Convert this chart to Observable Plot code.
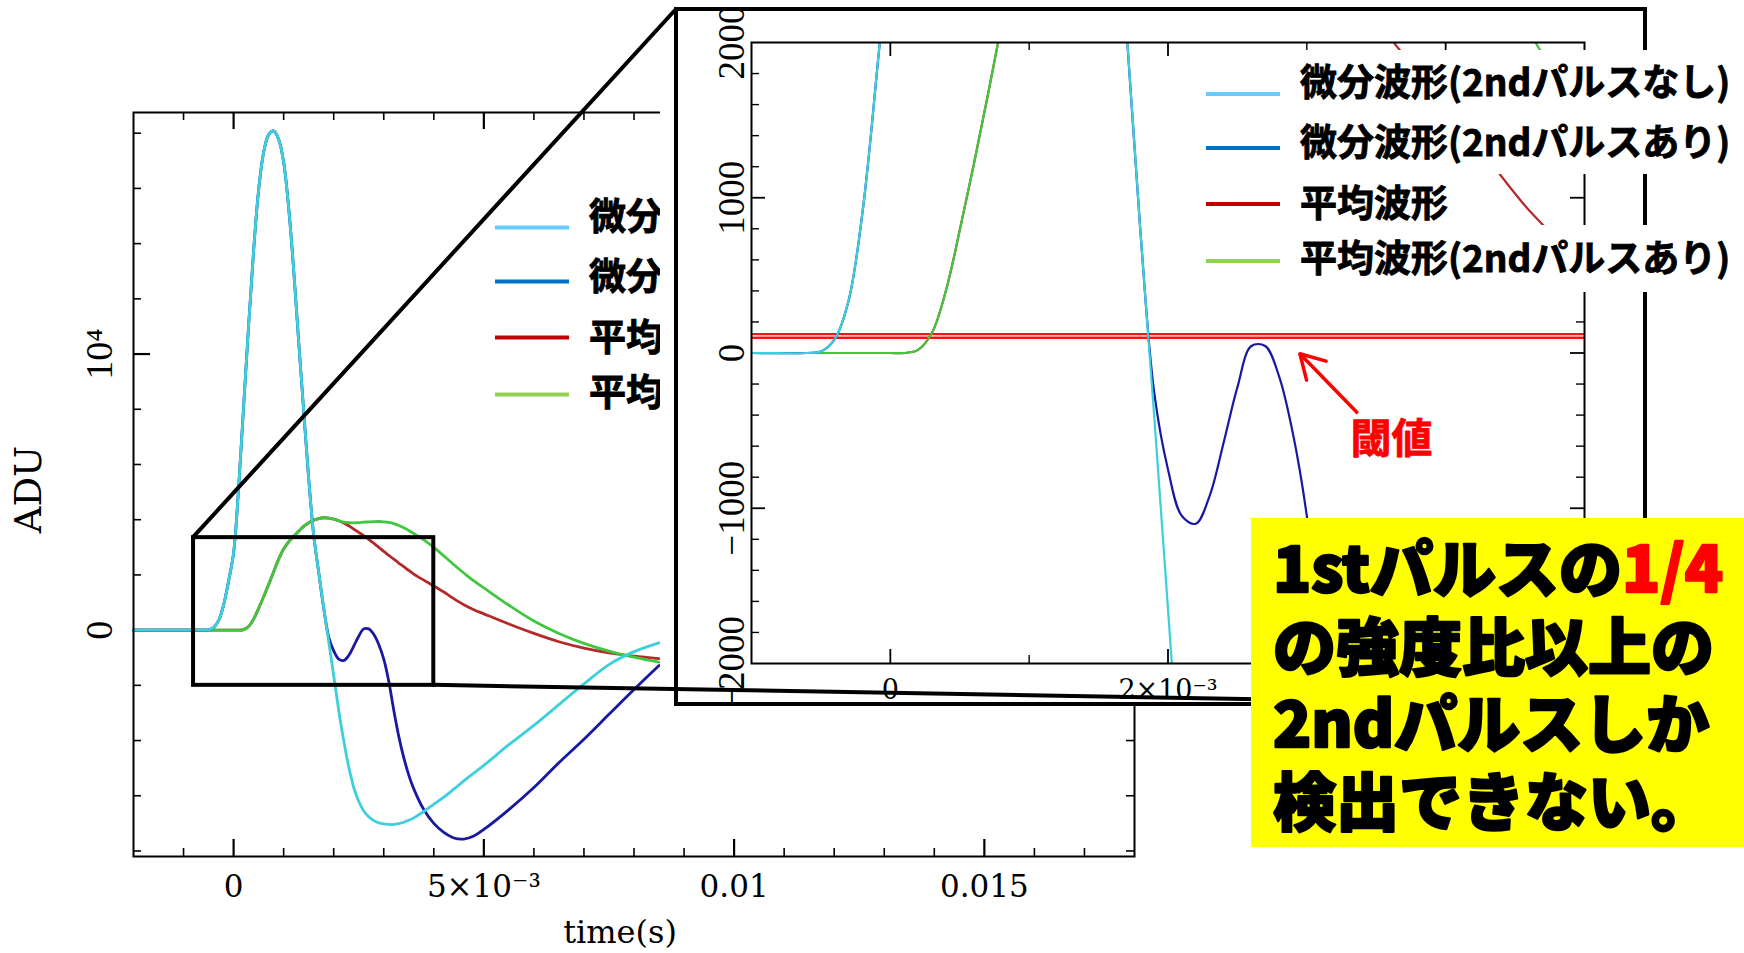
<!DOCTYPE html>
<html><head><meta charset="utf-8">
<script src="https://cdn.jsdelivr.net/npm/d3@7"></script>
<script src="https://cdn.jsdelivr.net/npm/@observablehq/plot@0.6"></script>
<style>
html,body{margin:0;padding:0;background:#fff;}
#stage{position:relative;width:1744px;height:953px;overflow:hidden;background:#fff;}
.layer{position:absolute;left:0;top:0;}
</style></head>
<body><div id="stage"></div>
<script>
// ---------------- data (time in ms, ADU values) ----------------
const timeMs = [-2, -1, -0.6, -0.5, -0.4, -0.3, -0.2, -0.1,
  0, 0.1, 0.2, 0.3, 0.4, 0.5, 0.6, 0.7, 0.8, 0.9, 1.0, 1.1, 1.2, 1.3, 1.4, 1.5, 1.6, 1.7, 1.8, 1.9,
  2.0, 2.1, 2.2, 2.3, 2.4, 2.5, 2.6, 2.7, 2.8, 2.9, 3.0, 3.1, 3.2, 3.3, 3.4, 3.5, 3.6,
  3.8, 4.0, 4.2, 4.4, 4.6, 4.8, 5.0, 5.5, 6.0, 6.5, 7.0, 7.5, 8.0, 8.5];
// 微分波形(2ndパルスなし)
const diffNo = [0, 0, 0, 10, 90, 340, 910, 1780,
  2800, 5150, 8100, 11050, 13750, 15950, 17300, 17950, 18080, 17780, 16950, 15300, 13050, 10450, 7950, 5500, 3450, 2100, 800, -400,
  -1650, -2900, -4000, -4950, -5700, -6200, -6550, -6760, -6900, -6980, -7020, -7040, -7040, -7010, -6960, -6890, -6800,
  -6570, -6310, -6050, -5760, -5460, -5180, -4900, -4150, -3450, -2700, -1950, -1250, -780, -460];
// 微分波形(2ndパルスあり)
const diffWith = [0, 0, 0, 10, 90, 340, 910, 1780,
  2800, 5150, 8100, 11050, 13750, 15950, 17300, 17950, 18080, 17780, 16950, 15300, 13050, 10450, 7950, 5500, 3450, 2100, 800, -250,
  -750, -1050, -1100, -920, -580, -220, 45, 45, -150, -520, -1050, -1850, -2900, -3850, -4620, -5250, -5750,
  -6500, -7000, -7330, -7530, -7570, -7460, -7220, -6500, -5700, -4800, -3950, -3050, -2150, -1280];
// 平均波形
const avgNo = [0, 0, 0, 0, 0, 0, 0, 0,
  0, 0, 20, 130, 400, 790, 1210, 1650, 2110, 2570, 2940, 3200, 3400, 3580, 3760, 3890, 3980, 4040, 4070, 4060,
  4020, 3960, 3880, 3780, 3660, 3540, 3420, 3290, 3150, 3000, 2850, 2710, 2570, 2430, 2300, 2160, 2030,
  1810, 1600, 1380, 1140, 920, 740, 590, 220, -120, -420, -650, -820, -940, -1030];
// 平均波形(2ndパルスあり)
const avgWith = [0, 0, 0, 0, 0, 0, 0, 0,
  0, 0, 20, 130, 400, 790, 1210, 1650, 2110, 2570, 2940, 3200, 3400, 3580, 3760, 3890, 3980, 4040, 4070, 4060,
  4020, 3965, 3910, 3890, 3885, 3895, 3910, 3920, 3930, 3935, 3925, 3900, 3860, 3790, 3710, 3610, 3500,
  3270, 3000, 2690, 2370, 2070, 1780, 1530, 900, 330, -120, -480, -760, -980, -1160];

const legendLabels = ["微分波形(2ndパルスなし)", "微分波形(2ndパルスあり)", "平均波形", "平均波形(2ndパルスあり)"];
const legendColors = ["#66ccff", "#0070c0", "#c00000", "#92d050"];
const lineColors = {diffNo: "#3ccfdc", diffWith: "#1818a2", avgNo: "#b42a2a", avgWith: "#40c640"};

// axes
const mainXDomain = [-0.002, 0.018];
const mainYDomain = [-8200, 18750];
const mainXLabelTicks = [0, 0.005, 0.01, 0.015];
const mainYLabelTicks = [0, 10000];
const insetXDomain = [-0.001, 0.005];
const insetYDomain = [-2000, 2000];
const insetXLabelTicks = [0, 0.002, 0.004];
const insetYLabelTicks = [-2000, -1000, 0, 1000, 2000];

// annotations
const zoomBox = {x1: -0.0008, x2: 0.004, y1: -2000, y2: 3350};
const threshold = [110];
const arrowSpec = [{x1: 0.00336, y1: -382, x2: 0.00295, y2: -5}];
const thresholdLabel = [{x: 0.00361, y: -562, text: "閾値"}];
const noteLines = [
  [{t: "1stパルスの", c: "#000"}, {t: "1/4", c: "#ff0000"}],
  [{t: "の強度比以上の", c: "#000"}],
  [{t: "2ndパルスしか", c: "#000"}],
  [{t: "検出できない。", c: "#000"}]
];

// ---------------- build tables ----------------
const toRows = vals => timeMs.map((t, i) => ({t: t / 1000, v: vals[i]}));
const seriesList = [
  {name: "avgNo", rows: toRows(avgNo)},
  {name: "avgWith", rows: toRows(avgWith)},
  {name: "diffWith", rows: toRows(diffWith)},
  {name: "diffNo", rows: toRows(diffNo)}
];

const stage = d3.select("#stage");

// ---------------- main chart ----------------
const M = {w: 1744, h: 953, left: 133, right: 1134, top: 112, bottom: 856};
const mH = M.bottom - M.top, mW = M.right - M.left;
const mainXAll = d3.range(-1, 18).map(k => k / 1000);
const mainXMinor = mainXAll.filter(v => !mainXLabelTicks.some(m => Math.abs(m - v) < 1e-9));
const mainYAll = d3.range(-8000, 18001, 2000);
const mainYMinor = mainYAll.filter(v => !mainYLabelTicks.includes(v));

function fmtMainX(d) {
  if (d === 0) return "0";
  if (Math.abs(d - 0.005) < 1e-9) return "5×10⁻³";
  return String(+d.toFixed(3));
}
function fmtMainY(d) { return d === 0 ? "0" : "10⁴"; }

const tickStyle = {stroke: "#000"};
const main = Plot.plot({
  width: M.w, height: M.h,
  marginLeft: M.left, marginRight: M.w - M.right, marginTop: M.top, marginBottom: M.h - M.bottom,
  x: {domain: mainXDomain, label: null},
  y: {domain: mainYDomain, label: null},
  style: {background: "transparent", color: "#000", fontFamily: "DejaVu Serif", overflow: "visible"},
  marks: [
    Plot.tickX(mainXMinor, {x: d => d, insetTop: mH - 8, strokeWidth: 1.6, ...tickStyle}),
    Plot.tickX(mainXMinor, {x: d => d, insetBottom: mH - 8, strokeWidth: 1.6, ...tickStyle}),
    Plot.tickX(mainXLabelTicks, {x: d => d, insetTop: mH - 17, strokeWidth: 2.2, ...tickStyle}),
    Plot.tickX(mainXLabelTicks, {x: d => d, insetBottom: mH - 17, strokeWidth: 2.2, ...tickStyle}),
    Plot.tickY(mainYMinor, {y: d => d, insetRight: mW - 8, strokeWidth: 1.6, ...tickStyle}),
    Plot.tickY(mainYMinor, {y: d => d, insetLeft: mW - 8, strokeWidth: 1.6, ...tickStyle}),
    Plot.tickY(mainYLabelTicks, {y: d => d, insetRight: mW - 17, strokeWidth: 2.2, ...tickStyle}),
    Plot.tickY(mainYLabelTicks, {y: d => d, insetLeft: mW - 17, strokeWidth: 2.2, ...tickStyle}),
    ...seriesList.map(s => Plot.line(s.rows, {x: "t", y: "v", stroke: lineColors[s.name], strokeWidth: 2.8, curve: "catmull-rom"})),
    Plot.rect([zoomBox], {x1: "x1", x2: "x2", y1: "y1", y2: "y2", fill: "none", stroke: "#000", strokeWidth: 4}),
    Plot.frame({stroke: "#000", strokeWidth: 2}),
    Plot.axisX(mainXLabelTicks, {tickSize: 0, tickPadding: 18, tickFormat: fmtMainX, fontSize: 31, fontFamily: "DejaVu Serif", label: null}),
    Plot.axisY(mainYLabelTicks, {tickSize: 0, tickRotate: -90, tickPadding: 22, tickFormat: fmtMainY, fontSize: 38, fontFamily: "Liberation Serif", label: null}),
    Plot.text(["time(s)"], {text: d => d, frameAnchor: "bottom", dx: -14, dy: 64, lineAnchor: "top", textAnchor: "middle", fontSize: 32, fontFamily: "DejaVu Serif"}),
    Plot.text(["ADU"], {text: d => d, frameAnchor: "left", rotate: -90, dx: -104, dy: 5, textAnchor: "middle", lineAnchor: "middle", fontSize: 37, fontFamily: "DejaVu Serif"})
  ]
});
d3.select(main).attr("class", "layer");
stage.node().appendChild(main);

// legend drawer (pixel layout of the pasted legend)
const LEG = {swX1: 1206, swX2: 1280, swY: [94, 148, 204, 261], txX: 1300, txY: [82, 142, 203, 258], fs: 37};
function drawLegend(g, dx, dy, withBg) {
  if (withBg) {
    const bgs = [[1190, 50, 552, 124], [1190, 174, 295, 51], [1190, 225, 552, 67]];
    g.selectAll("rect.bg").data(bgs).join("rect").attr("class", "bg")
      .attr("x", d => d[0] + dx).attr("y", d => d[1] + dy).attr("width", d => d[2]).attr("height", d => d[3]).attr("fill", "#fff");
  }
  legendLabels.forEach((lab, i) => {
    g.append("line").attr("x1", LEG.swX1 + dx).attr("x2", LEG.swX2 + dx)
      .attr("y1", LEG.swY[i] + dy).attr("y2", LEG.swY[i] + dy)
      .attr("stroke", legendColors[i]).attr("stroke-width", 4);
    g.append("text").attr("x", LEG.txX + dx).attr("y", LEG.txY[i] + dy + 0.38 * LEG.fs)
      .attr("font-family", "'Noto Sans CJK JP'").attr("font-weight", 700).attr("font-size", LEG.fs)
      .attr("fill", "#000").attr("stroke", "#000").attr("stroke-width", 0.9).attr("paint-order", "stroke")
      .text(lab);
  });
}

// main-chart legend (partly hidden by the inset, as in the picture)
const mainLegend = stage.append("svg").attr("class", "layer").attr("width", 1744).attr("height", 953);
drawLegend(mainLegend.append("g"), -711, 133.5, false);

// ---------------- inset (zoomed) chart ----------------
const I = {left: 660, w: 989, h: 706, pl: 751, pr: 1584, pt: 42, pb: 663};
const iH = I.pb - I.pt, iW = I.pr - I.pl;
const insetXMinor = [0.001, 0.003];
const insetYAll = d3.range(-1800, 1801, 200);
const insetYMinor = insetYAll.filter(v => v % 1000 !== 0);
const insetYMajor = [-1000, 0, 1000];

const inset = Plot.plot({
  width: I.w, height: I.h,
  marginLeft: I.pl - I.left, marginRight: I.w - (I.pr - I.left), marginTop: I.pt, marginBottom: I.h - I.pb,
  x: {domain: insetXDomain, label: null},
  y: {domain: insetYDomain, label: null},
  style: {background: "#fff", color: "#000", fontFamily: "DejaVu Serif", overflow: "hidden"},
  marks: [
    Plot.tickX(insetXMinor, {x: d => d, insetTop: iH - 8, strokeWidth: 1.4, ...tickStyle}),
    Plot.tickX(insetXMinor, {x: d => d, insetBottom: iH - 8, strokeWidth: 1.4, ...tickStyle}),
    Plot.tickX(insetXLabelTicks, {x: d => d, insetTop: iH - 14, strokeWidth: 1.8, ...tickStyle}),
    Plot.tickX(insetXLabelTicks, {x: d => d, insetBottom: iH - 14, strokeWidth: 1.8, ...tickStyle}),
    Plot.tickY(insetYMinor, {y: d => d, insetRight: iW - 8, strokeWidth: 1.4, ...tickStyle}),
    Plot.tickY(insetYMinor, {y: d => d, insetLeft: iW - 8, strokeWidth: 1.4, ...tickStyle}),
    Plot.tickY(insetYMajor, {y: d => d, insetRight: iW - 14, strokeWidth: 1.8, ...tickStyle}),
    Plot.tickY(insetYMajor, {y: d => d, insetLeft: iW - 14, strokeWidth: 1.8, ...tickStyle}),
    Plot.ruleY(threshold, {y: d => d, stroke: "#ff1010", strokeWidth: 6}),
    Plot.ruleY(threshold, {y: d => d, stroke: "#ffb8b8", strokeWidth: 1.6}),
    ...seriesList.map(s => Plot.line(s.rows, {x: "t", y: "v", stroke: lineColors[s.name], strokeWidth: 2.2, curve: "catmull-rom", clip: true})),
    Plot.arrow(arrowSpec, {x1: "x1", y1: "y1", x2: "x2", y2: "y2", stroke: "#ff0000", strokeWidth: 3.5, headLength: 20}),
    Plot.text(thresholdLabel, {x: "x", y: "y", text: "text", fill: "#ff0000", stroke: "#ff0000", strokeWidth: 0.8, fontSize: 41, fontWeight: "bold", fontFamily: "Noto Sans CJK JP"}),
    Plot.frame({stroke: "#000", strokeWidth: 2}),
    Plot.axisX(insetXLabelTicks, {tickSize: 0, tickPadding: 16, tickFormat: d => d === 0 ? "0" : `${Math.round(d * 1000)}×10⁻³`, fontSize: 27, fontFamily: "DejaVu Serif", label: null}),
    Plot.axisY(insetYLabelTicks, {tickSize: 0, tickRotate: -90, tickPadding: 8, tickFormat: d => d < 0 ? "−" + (-d) : String(d), fontSize: 37, fontFamily: "Liberation Serif", label: null})
  ]
});
const insetBox = stage.append("div")
  .style("position", "absolute").style("left", I.left + "px").style("top", "0px")
  .style("width", I.w + "px").style("height", I.h + "px").style("overflow", "hidden").style("background", "#fff");
insetBox.node().appendChild(inset);
insetBox.append("div")
  .style("position", "absolute").style("left", (674 - I.left) + "px").style("top", "7px")
  .style("width", "973px").style("height", "699px").style("border", "4px solid #000").style("box-sizing", "border-box");

// ---------------- overlay: inset legend, zoom connectors, note ----------------
const over = stage.append("svg").attr("class", "layer").attr("width", 1744).attr("height", 953);
drawLegend(over.append("g"), 0, 0, true);

const sx = main.scale("x"), sy = main.scale("y");
const connectors = [
  [[sx.apply(zoomBox.x1), sy.apply(zoomBox.y2)], [676, 9]],
  [[sx.apply(zoomBox.x2), sy.apply(zoomBox.y1)], [1645, 706]]
];
over.selectAll("line.conn").data(connectors).join("line").attr("class", "conn")
  .attr("x1", d => d[0][0]).attr("y1", d => d[0][1]).attr("x2", d => d[1][0]).attr("y2", d => d[1][1])
  .attr("stroke", "#000").attr("stroke-width", 4).attr("stroke-linecap", "round");

over.append("rect").attr("x", 1251).attr("y", 518).attr("width", 493).attr("height", 329).attr("fill", "#ffff00");
const noteText = over.append("g").attr("font-family", "'Noto Sans CJK JP'").attr("font-weight", 900).attr("font-size", 63);
noteLines.forEach((parts, i) => {
  const t = noteText.append("text").attr("x", 1273).attr("y", 592 + i * 77.5);
  parts.forEach(p => t.append("tspan").attr("fill", p.c).attr("stroke", p.c).attr("stroke-width", 2.4).attr("stroke-linejoin", "round").text(p.t));
});
</script>
</body></html>
